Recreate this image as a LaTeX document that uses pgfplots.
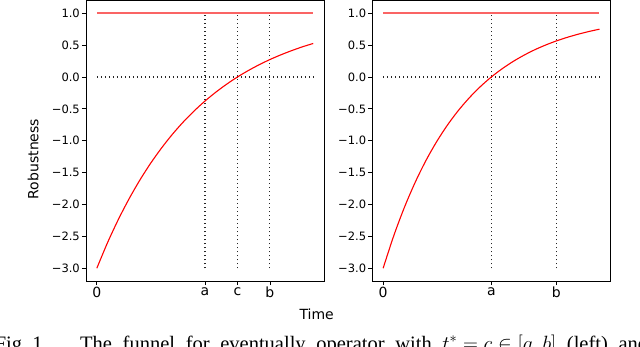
\documentclass[border=0pt]{standalone}
\usepackage{fontspec}
\setmainfont{DejaVu Sans}
\newfontfamily\capfont{Liberation Serif}
\usepackage{pgfplots}
\usepackage{pgfplotstable}
\pgfplotsset{compat=1.18}
\definecolor{lightred}{RGB}{250,100,100}

% funnel, crossing at c (left)
\pgfplotstableread{
t r
0 -3.000
0.5 -2.595
1 -2.232
1.5 -1.905
2 -1.611
2.5 -1.347
3 -1.110
3.5 -0.896
4 -0.704
4.5 -0.532
5 -0.377
5.5 -0.238
6 -0.113
6.5 0.000
7 0.101
7.5 0.192
8 0.274
8.5 0.347
9 0.413
9.5 0.473
10 0.526
}\leftdata

% funnel, crossing at a (right)
\pgfplotstableread{
t r
0 -3.000
0.5 -2.482
1 -2.031
1.5 -1.639
2 -1.297
2.5 -1.000
3 -0.741
3.5 -0.516
4 -0.320
4.5 -0.149
5 0.000
5.5 0.129
6 0.242
6.5 0.340
7 0.426
7.5 0.500
8 0.565
8.5 0.621
9 0.670
9.5 0.713
10 0.750
}\rightdata

\begin{document}
\begin{tikzpicture}
\useasboundingbox (0bp,0bp) rectangle (640bp,347bp);
\clip (0bp,0bp) rectangle (640bp,347bp);
\pgfplotsset{
    funnel/.style={
        scale only axis,
        width=238bp, height=280.5bp,
        anchor=south west,
        xmin=-0.5, xmax=10.5,
        ymin=-3.2, ymax=1.2,
        axis line style={black, line width=0.8bp},
        tick align=outside,
        major tick length=4bp,
        tick style={black, line width=0.8bp},
        xtick pos=bottom, ytick pos=left,
        ytick={-3,-2.5,-2,-1.5,-1,-0.5,0,0.5,1},
        yticklabels={−3.0,−2.5,−2.0,−1.5,−1.0,−0.5,0.0,0.5,1.0},
        yticklabel style={inner sep=2bp, font=\fontsize{11.5bp}{13bp}\selectfont},
        xticklabel style={inner sep=2bp, font=\fontsize{14bp}{16bp}\selectfont},
    },
    dots/.style={black!85, line width=1.1bp, dash pattern=on 1.3bp off 2.7bp},
}

\begin{axis}[funnel, at={(86bp,66bp)},
    xtick={0,5,6.5,8}, xticklabels={0,a,c,b}]
    \addplot[lightred, line width=1.6bp] coordinates {(0,1) (10,1)};
    \addplot[dots] coordinates {(0,0) (10,0)};
    \addplot[dots] coordinates {(5,-3) (5,1)};
    \addplot[dots] coordinates {(6.5,-3) (6.5,1)};
    \addplot[dots] coordinates {(8,-3) (8,1)};
    \addplot[red, line width=1.1bp, smooth] table[x=t, y=r] {\leftdata};
\end{axis}

\begin{axis}[funnel, at={(372.3bp,66bp)},
    xtick={0,5,8}, xticklabels={0,a,b}]
    \addplot[lightred, line width=1.6bp] coordinates {(0,1) (10,1)};
    \addplot[dots] coordinates {(0,0) (10,0)};
    \addplot[dots] coordinates {(5,-3) (5,1)};
    \addplot[dots] coordinates {(8,-3) (8,1)};
    \addplot[red, line width=1.1bp, smooth] table[x=t, y=r] {\rightdata};
\end{axis}

\node[anchor=base, inner sep=0] at (316.7bp,28bp)
    {\fontsize{14bp}{16bp}\selectfont Time};
\node[anchor=base, rotate=90, inner sep=0] at (38.3bp,188bp)
    {\fontsize{14bp}{16bp}\selectfont Robustness};

\node[anchor=base east, inner sep=0] at (48bp,-3bp)
    {\capfont\fontsize{20.5bp}{22bp}\selectfont Fig.~1.};
\node[anchor=base west, inner sep=0] at (80bp,-3bp)
    {\capfont\fontsize{20.5bp}{22bp}\selectfont\makebox[568bp][s]{The funnel for eventually operator with \mbox{$t^* = c \in [a, b]$} (left) and}};
\end{tikzpicture}
\end{document}
